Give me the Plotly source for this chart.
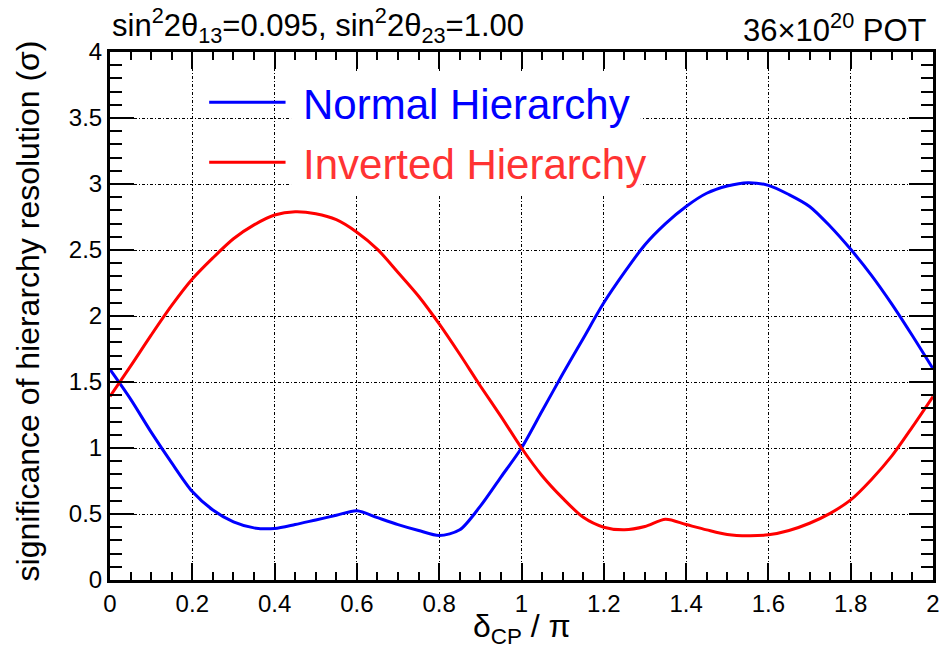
import plotly.graph_objects as go

# delta_CP / pi sample points
delta_cp = [0.00, 0.05, 0.10, 0.15, 0.20, 0.25, 0.30, 0.35, 0.40, 0.45,
            0.50, 0.55, 0.60, 0.65, 0.70, 0.75, 0.80, 0.85, 0.90, 0.95,
            1.00, 1.05, 1.10, 1.15, 1.20, 1.25, 1.30, 1.35, 1.40, 1.45,
            1.50, 1.55, 1.60, 1.65, 1.70, 1.75, 1.80, 1.85, 1.90, 1.95, 2.00]

# significance of hierarchy resolution (sigma), Normal Hierarchy
normal_h = [1.595, 1.37, 1.12, 0.887, 0.67, 0.53, 0.44, 0.395, 0.39, 0.42,
            0.455, 0.49, 0.525, 0.472, 0.42, 0.375, 0.337, 0.38, 0.56, 0.78,
            1.00, 1.28, 1.56, 1.83, 2.10, 2.33, 2.54, 2.70, 2.83, 2.93,
            2.985, 3.01, 2.99, 2.92, 2.83, 2.68, 2.505, 2.31, 2.09, 1.85, 1.60]

# Inverted Hierarchy
inverted_h = [1.39, 1.62, 1.855, 2.08, 2.28, 2.44, 2.585, 2.69, 2.765, 2.79,
              2.775, 2.73, 2.635, 2.505, 2.33, 2.15, 1.94, 1.71, 1.47, 1.24,
              1.00, 0.79, 0.62, 0.475, 0.40, 0.38, 0.405, 0.46, 0.42, 0.38,
              0.345, 0.335, 0.342, 0.375, 0.43, 0.505, 0.607, 0.76, 0.94, 1.16, 1.39]

x_ticks = [0, 0.2, 0.4, 0.6, 0.8, 1.0, 1.2, 1.4, 1.6, 1.8, 2.0]
x_tick_labels = ["0", "0.2", "0.4", "0.6", "0.8", "1", "1.2", "1.4", "1.6", "1.8", "2"]
y_ticks = [0, 0.5, 1, 1.5, 2, 2.5, 3, 3.5, 4]
y_tick_labels = ["0", "0.5", "1", "1.5", "2", "2.5", "3", "3.5", "4"]

series_names = ["Normal Hierarchy", "Inverted Hierarchy"]
line_colors = ["#0000ff", "#ff0000"]
text_colors = ["#0000ff", "#ff3333"]

FONT = "Liberation Sans, Arial, Helvetica, sans-serif"

fig = go.Figure()
for name, ys, col in zip(series_names, [normal_h, inverted_h], line_colors):
    fig.add_trace(go.Scatter(x=delta_cp, y=ys, mode="lines", name=name,
                             line=dict(color=col, width=3, shape="spline", smoothing=0.8),
                             showlegend=False))

grid_dash = "3px,2px,1px,2px"
fig.update_layout(
    width=946, height=651,
    margin=dict(l=110, r=6, t=52, b=71),
    paper_bgcolor="white", plot_bgcolor="white",
    font=dict(family=FONT, color="black"),
    xaxis=dict(range=[0, 2], tickvals=x_ticks, ticktext=x_tick_labels,
               ticks="inside", ticklen=17, tickwidth=2, tickcolor="black",
               minor=dict(dtick=0.05, tick0=0, ticks="inside", ticklen=8,
                          tickwidth=2, tickcolor="black", showgrid=False),
               showline=True, linewidth=3, linecolor="black", mirror="ticks",
               showgrid=True, gridcolor="black", gridwidth=1, griddash=grid_dash,
               zeroline=False, tickfont=dict(size=24, family=FONT)),
    yaxis=dict(range=[0, 4], tickvals=y_ticks, ticktext=y_tick_labels,
               ticks="inside", ticklen=24, tickwidth=2, tickcolor="black",
               minor=dict(dtick=0.1, tick0=0, ticks="inside", ticklen=12,
                          tickwidth=2, tickcolor="black", showgrid=False),
               showline=True, linewidth=3, linecolor="black", mirror="ticks",
               showgrid=True, gridcolor="black", gridwidth=1, griddash=grid_dash,
               zeroline=False, tickfont=dict(size=24, family=FONT)),
)

# axis titles
fig.add_annotation(xref="paper", yref="paper", x=0.5, y=-0.05, xanchor="center",
                   yanchor="top", showarrow=False, text="δ<sub>CP</sub> / π",
                   font=dict(size=32, family=FONT, color="black"))
fig.add_annotation(xref="paper", yref="paper", x=-0.1, y=0.51, xanchor="center",
                   yanchor="middle", showarrow=False, textangle=-90,
                   text="significance of hierarchy resolution (σ)",
                   font=dict(size=32, family=FONT, color="black"))

# white area behind the legend text (hides the grid as in the reference)
fig.add_shape(type="rect", xref="paper", yref="paper", x0=0.22, x1=0.645,
              y0=0.729, y1=0.962, fillcolor="white", line=dict(width=0), layer="above")

# legend (line samples + labels)
legend_y = [0.905, 0.791]
for yv, name, lc, tc in zip(legend_y, series_names, line_colors, text_colors):
    fig.add_shape(type="line", xref="paper", yref="paper", x0=0.1205, x1=0.2133,
                  y0=yv, y1=yv, line=dict(color=lc, width=3), layer="above")
    fig.add_annotation(xref="paper", yref="paper", x=0.2325, y=yv - 0.004,
                       xanchor="left", yanchor="middle", showarrow=False,
                       text=name, font=dict(size=42, color=tc, family=FONT))

# header texts
fig.add_annotation(xref="paper", yref="paper", x=0.0, y=1.0, xanchor="left",
                   yanchor="bottom", yshift=2, showarrow=False,
                   text="sin<sup>2</sup>2θ<sub>13</sub>=0.095, sin<sup>2</sup>2θ<sub>23</sub>=1.00",
                   font=dict(size=31, family=FONT, color="black"))
fig.add_annotation(xref="paper", yref="paper", x=0.995, y=1.0, xanchor="right",
                   yanchor="bottom", yshift=2, showarrow=False,
                   text="36×10<sup>20</sup> POT",
                   font=dict(size=31, family=FONT, color="black"))

fig.write_html("out.html")
